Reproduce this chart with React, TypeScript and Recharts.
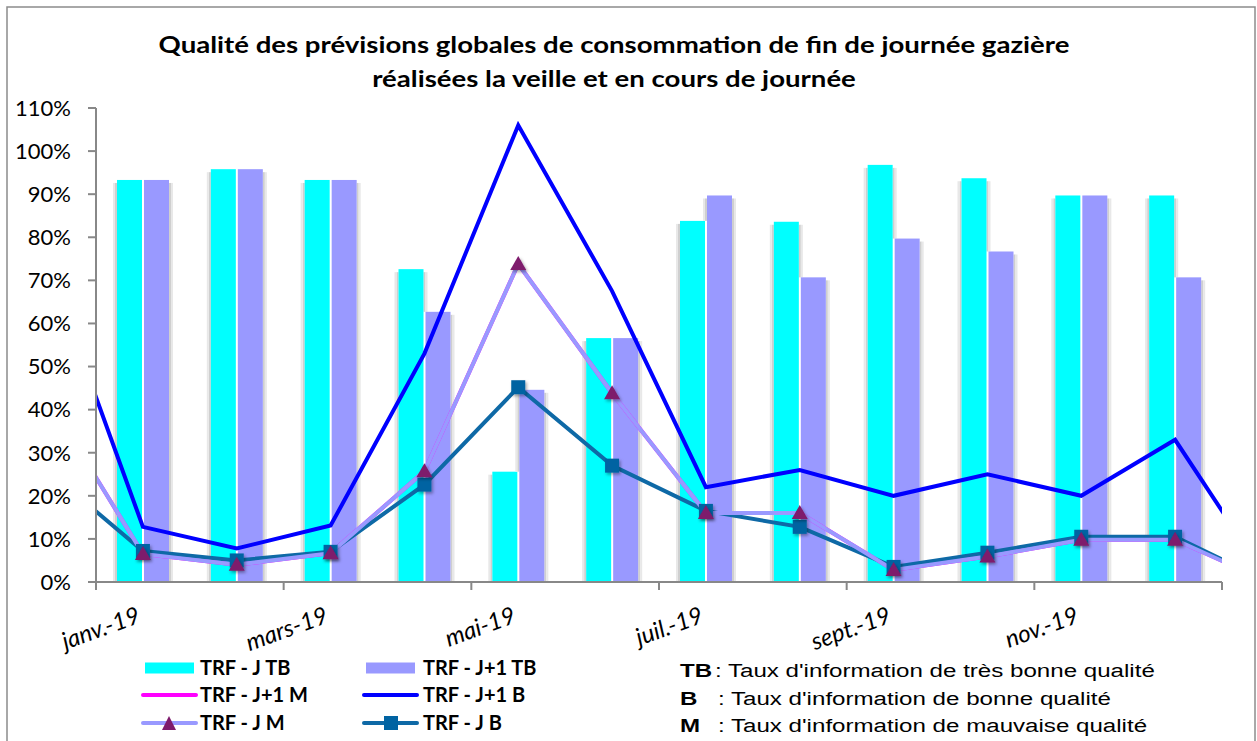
import { ComposedChart, Bar, Line, XAxis, YAxis } from "recharts";

// --- data (values in %) ---
const months = [
  "janv.-19", "févr.-19", "mars-19", "avr.-19", "mai-19", "juin-19",
  "juil.-19", "août-19", "sept.-19", "oct.-19", "nov.-19", "déc.-19",
];
const jTB = [93.3, 95.8, 93.3, 72.6, 25.6, 56.6, 83.8, 83.6, 96.8, 93.7, 89.7, 89.7];
const j1TB = [93.3, 95.8, 93.3, 62.7, 44.6, 56.6, 89.7, 70.7, 79.7, 76.7, 89.7, 70.7];

// line series run one month past each edge of the plot (clipped, as in the original)
const lineMonths = ["déc.-18", ...months, "janv.-20"];
const j1M = [42, 6.5, 4, 6.7, 25.7, 73.8, 43.8, 16, 16, 2.8, 5.9, 9.8, 9.8, 0];
const j1B = [73, 12.8, 7.8, 13.1, 53, 106, 67.5, 22, 26, 20, 25, 20, 33, 0];
const jM = [42, 6.5, 4, 6.7, 25.7, 73.8, 43.8, 16, 16, 2.8, 5.9, 9.8, 9.8, 0];
const jB = [25.6, 7.2, 5, 7, 22.6, 45.2, 27, 16.5, 12.8, 3.5, 6.8, 10.5, 10.5, 0];

const yTicks = [0, 10, 20, 30, 40, 50, 60, 70, 80, 90, 100, 110];

const title = [
  "Qualité des prévisions globales de consommation de fin de journée gazière",
  "réalisées la veille et en cours de journée",
];
const definitions = [
  { key: "TB", text: ": Taux d'information de très bonne qualité" },
  { key: "B", text: ": Taux d'information de bonne qualité" },
  { key: "M", text: ": Taux d'information de mauvaise qualité" },
];

const CYAN = "#00FFFF";
const LAV = "#9999FF";
const MAG = "#FF00FF";
const BLUE = "#0000FF";
const TEAL = "#0E69A6";
const TEAL_MARK = "#0063A2";
const PLUM = "#7E1A6C";
const AXIS = "#888888";
const FONT = "Lato, 'Open Sans', sans-serif";

const legendItems = [
  { name: "TRF - J TB", kind: "bar", color: CYAN, col: 0, row: 0 },
  { name: "TRF - J+1 TB", kind: "bar", color: LAV, col: 1, row: 0 },
  { name: "TRF - J+1 M", kind: "line", color: MAG, col: 0, row: 1 },
  { name: "TRF - J+1 B", kind: "line", color: BLUE, col: 1, row: 1 },
  { name: "TRF - J M", kind: "triangle", color: LAV, col: 0, row: 2 },
  { name: "TRF - J B", kind: "square", color: TEAL, col: 1, row: 2 },
];

const W = 1257;
const H = 741;
const MARGIN = { top: 108, right: 35, bottom: 99, left: 16 };
const Y_AXIS_W = 80;
const plotWidth = W - MARGIN.left - Y_AXIS_W - MARGIN.right;
const halfBand = plotWidth / months.length / 2;

const barRows = months.map((month, i) => ({ month, jTB: jTB[i], j1TB: j1TB[i] }));
const lineRows = lineMonths.map((month, i) => ({
  month,
  slot: i,
  j1M: j1M[i],
  j1B: j1B[i],
  jM: jM[i],
  jB: jB[i],
}));

// Excel-like soft shadow strips on the sides of a column
const Strips = ({ edge, dir, y0, y1 }: any) =>
  y1 > y0 ? (
    <>
      <rect x={dir < 0 ? edge - 2 : edge} y={y0} width={2} height={y1 - y0} fill="#cfcfcf" />
      <rect x={dir < 0 ? edge - 4 : edge + 2} y={y0} width={2} height={y1 - y0} fill="#e8e8e8" />
    </>
  ) : null;

const shadowBar = (fill: string, ownKey: string, partnerKey: string, side: "left" | "right") =>
  (props: any) => {
    const { x, y, width, height, payload } = props;
    if (!(height > 0)) return <g />;
    const base = y + height;
    const perUnit = height / payload[ownKey];
    const partnerTop = base - payload[partnerKey] * perUnit;
    const top = y + 3;
    const outer = side === "left" ? { edge: x, dir: -1 } : { edge: x + width, dir: 1 };
    const inner = side === "left" ? { edge: x + width, dir: 1 } : { edge: x, dir: -1 };
    return (
      <g>
        <Strips {...outer} y0={top} y1={base} />
        <Strips {...inner} y0={top} y1={Math.min(partnerTop, base)} />
        <rect x={x} y={y} width={width} height={height} fill={fill} />
      </g>
    );
  };

const inPlot = (p: any) => p && p.payload && p.payload.slot >= 1 && p.payload.slot <= months.length;

const triangleDot = (p: any) => {
  if (!inPlot(p) || p.cx == null || p.cy == null) return <g key={`t${p.index}`} />;
  const { cx, cy } = p;
  return (
    <path
      key={`t${p.index}`}
      d={`M${cx},${cy - 8}L${cx + 8},${cy + 6}L${cx - 8},${cy + 6}Z`}
      fill={PLUM}
      filter="url(#markShadow)"
    />
  );
};

const squareDot = (p: any) => {
  if (!inPlot(p) || p.cx == null || p.cy == null) return <g key={`s${p.index}`} />;
  return (
    <rect
      key={`s${p.index}`}
      x={p.cx - 7}
      y={p.cy - 7}
      width={14}
      height={14}
      fill={TEAL_MARK}
      filter="url(#markShadow)"
    />
  );
};

// labels on every other month, tick marks on the two-month boundaries
const MonthTick = (props: any) => {
  const { x, y, index, payload } = props;
  const even = index % 2 === 0;
  return (
    <g>
      {even && <line x1={x - halfBand} x2={x - halfBand} y1={y} y2={y + 8} stroke={AXIS} strokeWidth={2} />}
      {index === months.length - 1 && (
        <line x1={x + halfBand} x2={x + halfBand} y1={y} y2={y + 8} stroke={AXIS} strokeWidth={2} />
      )}
      {even && (
        <text
          x={x - 1}
          y={y + 40}
          transform={`rotate(-20, ${x - 1}, ${y + 40})`}
          textAnchor="end"
          fontFamily={FONT}
          fontStyle="italic"
          fontSize={24}
          fill="#000"
        >
          {payload.value}
        </text>
      )}
    </g>
  );
};

const LegendSwatch = ({ item, x, cy }: any) => {
  if (item.kind === "bar") {
    return <rect x={x} y={cy - 5.5} width={49} height={11} fill={item.color} />;
  }
  return (
    <g>
      <line x1={x - 2} x2={x + 51} y1={cy} y2={cy} stroke={item.color} strokeWidth={4} strokeLinecap="round" />
      {item.kind === "triangle" && (
        <path d={`M${x + 24},${cy - 7}L${x + 31},${cy + 7}L${x + 17},${cy + 7}Z`} fill={PLUM} />
      )}
      {item.kind === "square" && <rect x={x + 18} y={cy - 7} width={14} height={14} fill={TEAL_MARK} />}
    </g>
  );
};

export default function App() {
  const colSwatch = [145, 366];
  const colText = [200, 423];
  const rowCenter = [668, 695, 723];
  return (
    <div
      style={{
        position: "absolute",
        left: 0,
        top: 0,
        width: W,
        height: H,
        background: "#fff",
        overflow: "hidden",
        fontFamily: FONT,
      }}
    >
      <ComposedChart width={W} height={H} data={barRows} margin={MARGIN} barGap={2} barSize={25}>
        <defs>
          <filter id="markShadow" x="-50%" y="-50%" width="200%" height="200%">
            <feDropShadow dx="1.5" dy="2" stdDeviation="1.5" floodColor="#000" floodOpacity="0.35" />
          </filter>
        </defs>
        <XAxis
          xAxisId="cat"
          dataKey="month"
          interval={0}
          height={60}
          tickSize={0}
          tickMargin={0}
          tickLine={false}
          axisLine={{ stroke: AXIS, strokeWidth: 2 }}
          tick={(p: any) => <MonthTick {...p} />}
        />
        <XAxis xAxisId="slot" dataKey="slot" type="number" domain={[0.5, 12.5]} allowDataOverflow hide />
        <YAxis
          domain={[0, 110]}
          ticks={yTicks}
          width={Y_AXIS_W}
          tickSize={8}
          tickMargin={17}
          interval={0}
          tickFormatter={(v: number) => `${v}%`}
          axisLine={{ stroke: AXIS, strokeWidth: 2 }}
          tickLine={{ stroke: AXIS, strokeWidth: 2 }}
          tick={{ fontSize: 22, fill: "#000", fontFamily: FONT }}
        />
        <Bar xAxisId="cat" dataKey="jTB" fill={CYAN} shape={shadowBar(CYAN, "jTB", "j1TB", "left")} isAnimationActive={false} />
        <Bar xAxisId="cat" dataKey="j1TB" fill={LAV} shape={shadowBar(LAV, "j1TB", "jTB", "right")} isAnimationActive={false} />
        <Line xAxisId="slot" data={lineRows} dataKey="j1M" stroke={MAG} strokeWidth={4} dot={false} activeDot={false} isAnimationActive={false} />
        <Line xAxisId="slot" data={lineRows} dataKey="jB" stroke={TEAL} strokeWidth={4} dot={squareDot} activeDot={false} isAnimationActive={false} />
        <Line xAxisId="slot" data={lineRows} dataKey="jM" stroke={LAV} strokeWidth={4} dot={triangleDot} activeDot={false} isAnimationActive={false} />
        <Line xAxisId="slot" data={lineRows} dataKey="j1B" stroke={BLUE} strokeWidth={4} dot={false} activeDot={false} isAnimationActive={false} />
      </ComposedChart>

      <svg width={W} height={H} style={{ position: "absolute", left: 0, top: 0, pointerEvents: "none" }}>
        <rect x={7} y={7} width={1248} height={780} fill="none" stroke="#8c8c8c" strokeWidth={1.5} />
        {title.map((line, i) => (
          <text
            key={line}
            transform={`translate(614, ${53 + i * 34}) scale(1.2, 1)`}
            textAnchor="middle"
            fontFamily={FONT}
            fontWeight="bold"
            fontSize={23}
            fill="#000"
          >
            {line}
          </text>
        ))}

        {legendItems.map((item) => (
          <g key={item.name}>
            <LegendSwatch item={item} x={colSwatch[item.col]} cy={rowCenter[item.row]} />
            <text x={colText[item.col]} y={rowCenter[item.row] + 7} fontFamily={FONT} fontWeight="bold" fontSize={20} fill="#000">
              {item.name}
            </text>
          </g>
        ))}

        {definitions.map((d, i) => (
          <g key={d.key} fontFamily="'Liberation Sans', Arial, sans-serif" fontSize={19} fill="#000">
            <text transform={`translate(680, ${677 + i * 27.5}) scale(1.27, 1)`} fontWeight="bold">{d.key}</text>
            <text transform={`translate(${i === 0 ? 715 : 718}, ${677 + i * 27.5}) scale(1.27, 1)`}>{d.text}</text>
          </g>
        ))}
      </svg>
    </div>
  );
}
